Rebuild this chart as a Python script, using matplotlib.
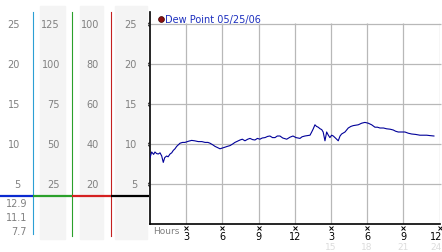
import matplotlib
matplotlib.use("Agg")
import matplotlib.pyplot as plt
from matplotlib.transforms import blended_transform_factory

W, H = 442, 253

# dew point trace, hours since start vs value
hours = [
    0.0, 0.14, 0.3, 0.41, 0.55, 0.69, 0.83, 0.97, 1.1, 1.22, 1.38, 1.5, 1.66,
    1.8, 1.93, 2.07, 2.21, 2.35, 2.49, 2.7, 2.9, 3.2, 3.45, 3.7, 4.0, 4.3,
    4.56, 4.8, 4.97, 5.2, 5.39, 5.6, 5.8, 6.0, 6.21, 6.4, 6.63, 6.85, 7.04,
    7.25, 7.46, 7.65, 7.87, 8.1, 8.29, 8.5, 8.7, 8.9, 9.11, 9.3, 9.53, 9.75,
    9.94, 10.15, 10.36, 10.55, 10.77, 11.0, 11.33, 11.6, 11.85, 12.1, 12.43,
    12.6, 12.84, 13.05, 13.26, 13.4, 13.53, 13.67, 13.8, 13.94, 14.1, 14.23,
    14.35, 14.5, 14.64, 14.78, 14.91, 15.05, 15.19, 15.4, 15.6, 15.75, 15.88,
    16.16, 16.43, 16.65, 16.85, 17.05, 17.26, 17.54, 17.81, 18.09, 18.37,
    18.64, 18.85, 19.06, 19.35, 19.61, 19.9, 20.16, 20.35, 20.57, 20.85,
    21.13, 21.4, 21.68, 22.0, 22.37, 22.65, 22.93, 23.2, 23.53,
]
dew_point = [
    8.3, 9.0, 8.7, 9.0, 8.8, 8.75, 8.9, 8.5, 7.7, 8.3, 8.5, 8.4, 8.75,
    8.9, 9.2, 9.4, 9.7, 9.9, 10.1, 10.2, 10.2, 10.35, 10.45, 10.4, 10.3, 10.3,
    10.2, 10.2, 10.1, 9.9, 9.7, 9.55, 9.4, 9.5, 9.6, 9.7, 9.8, 10.0, 10.2,
    10.35, 10.5, 10.6, 10.4, 10.6, 10.7, 10.55, 10.5, 10.7, 10.6, 10.75, 10.8,
    10.95, 11.0, 10.8, 10.8, 11.0, 11.0, 10.75, 10.6, 10.85, 11.0, 10.8, 10.7,
    10.9, 11.0, 11.05, 11.1, 11.5, 11.9, 12.4, 12.2, 12.1, 11.9, 11.8,
    11.5, 10.4, 11.5, 11.1, 10.8, 11.1, 11.0, 10.7, 10.4, 11.0, 11.25,
    11.5, 12.0, 12.2, 12.3, 12.35, 12.4, 12.6, 12.7, 12.6, 12.4,
    12.1, 12.1, 12.0, 12.0, 11.9, 11.85, 11.75, 11.6, 11.5, 11.5,
    11.5, 11.35, 11.25, 11.2, 11.1, 11.1, 11.1, 11.05, 11.0,
]

x_ticks = [3, 6, 9, 12, 15, 18, 21, 24]
x_tick_labels = ["3", "6", "9", "12", "3", "6", "9", "12"]
x_ticks_24h = ["15", "18", "21", "24"]
y_ticks = [5, 10, 15, 20, 25]
scale_cols = [
    ([5, 10, 15, 20, 25], 20),
    ([25, 50, 75, 100, 125], 60),
    ([20, 40, 60, 80, 100], 99),
    ([5, 10, 15, 20, 25], 137),
]
stats = ["12.9", "11.1", "7.7"]

GRID = "#b8b8b8"
LABEL_GRAY = "#808080"
PANEL_BG = "#f4f4f4"
LINE_BLUE = "#000099"


def fx(px):
    return px / W


def fy(py):
    return 1 - py / H


fig = plt.figure(figsize=(W / 100, H / 100), dpi=100)
fig.patch.set_facecolor("white")

# shaded scale columns on the left
for x0, x1 in [(40, 65), (80, 103), (115, 147)]:
    fig.patches.append(plt.Rectangle((fx(x0), fy(240)), fx(x1 - x0), (240 - 7) / H,
                                     transform=fig.transFigure, color=PANEL_BG, zorder=0))

ax = fig.add_axes([fx(150), fy(225), fx(439.6 - 150), 212 / H])
ax.set_xlim(0, 24)
ax.set_ylim(0, 26.5)
ax.patch.set_alpha(0)
for side in ["top", "right"]:
    ax.spines[side].set_visible(False)
ax.spines["left"].set_color("black")
ax.spines["bottom"].set_color("black")
ax.spines["left"].set_linewidth(1.2)
ax.spines["bottom"].set_linewidth(1.2)

ax.vlines(x_ticks, 0, 25.1, color=GRID, linewidth=0.9, zorder=1)
ax.hlines(y_ticks, 0, 24.15, color=GRID, linewidth=0.9, zorder=1, clip_on=False)

ax.plot(hours, dew_point, color=LINE_BLUE, linewidth=0.8, zorder=3)

ax.set_xticks([])
ax.set_yticks([])

# small cross ticks on both axes
left_tr = blended_transform_factory(fig.transFigure, ax.transData)
ax.plot([fx(147)] * len(y_ticks), y_ticks, "x", color="black", markersize=2.2,
        markeredgewidth=0.7, transform=left_tr, clip_on=False)
bottom_tr = blended_transform_factory(ax.transData, fig.transFigure)
ax.plot(x_ticks, [fy(229)] * len(x_ticks), "x", color="black", markersize=2.2,
        markeredgewidth=0.7, transform=bottom_tr, clip_on=False)

# the last labels sit at the right edge, so anchor them to the right
for xv, lab in zip(x_ticks, x_tick_labels):
    ha = "right" if xv == x_ticks[-1] else "center"
    t = fig.text(0, fy(237.5), lab, transform=bottom_tr, ha=ha, va="center",
                 fontsize=7, color="black")
    t.set_x(xv + (0.2 if ha == "right" else 0))
for xv, lab in zip(x_ticks[4:], x_ticks_24h):
    ha = "right" if xv == x_ticks[-1] else "center"
    t = fig.text(0, fy(248), lab, transform=bottom_tr, ha=ha, va="center",
                 fontsize=6.5, color="#dcdcdc")
    t.set_x(xv + (0.2 if ha == "right" else 0))
fig.text(fx(153), fy(232), "Hours", ha="left", va="center", fontsize=6.5, color=LABEL_GRAY)

# left scale columns
for values, right_px in scale_cols:
    for yv, val in zip(y_ticks, values):
        fig.text(fx(right_px), yv, str(val), transform=left_tr, ha="right", va="center",
                 fontsize=7, color=LABEL_GRAY)
for py, s in zip([204, 218, 232], stats):
    fig.text(fx(27), fy(py), s, ha="right", va="center", fontsize=7, color=LABEL_GRAY)

# coloured dividers
for px, color, y_end in [(33, "#2b9fd4", 235), (72, "#2aa02a", 237), (111, "#c42020", 237)]:
    fig.add_artist(plt.Line2D([fx(px), fx(px)], [fy(13), fy(y_end)], color=color,
                              linewidth=0.8, transform=fig.transFigure))
for x0, x1, color in [(0, 33, "#0a2ad0"), (33, 72, "#2aa02a"), (72, 111, "#d42020"), (111, 149, "black")]:
    fig.add_artist(plt.Line2D([fx(x0), fx(x1)], [fy(197), fy(197)], color=color,
                              linewidth=1.6, transform=fig.transFigure, solid_capstyle="butt"))

# legend
fig.add_artist(plt.Line2D([fx(160.5)], [fy(20)], marker="o", markersize=4.2, color="#8b1010",
                          markeredgecolor="#3a0000", markeredgewidth=0.5, transform=fig.transFigure))
fig.text(fx(165), fy(20), "Dew Point 05/25/06", ha="left", va="center", fontsize=7, color="#1c2fbf")

fig.savefig("out.png", dpi=100)
